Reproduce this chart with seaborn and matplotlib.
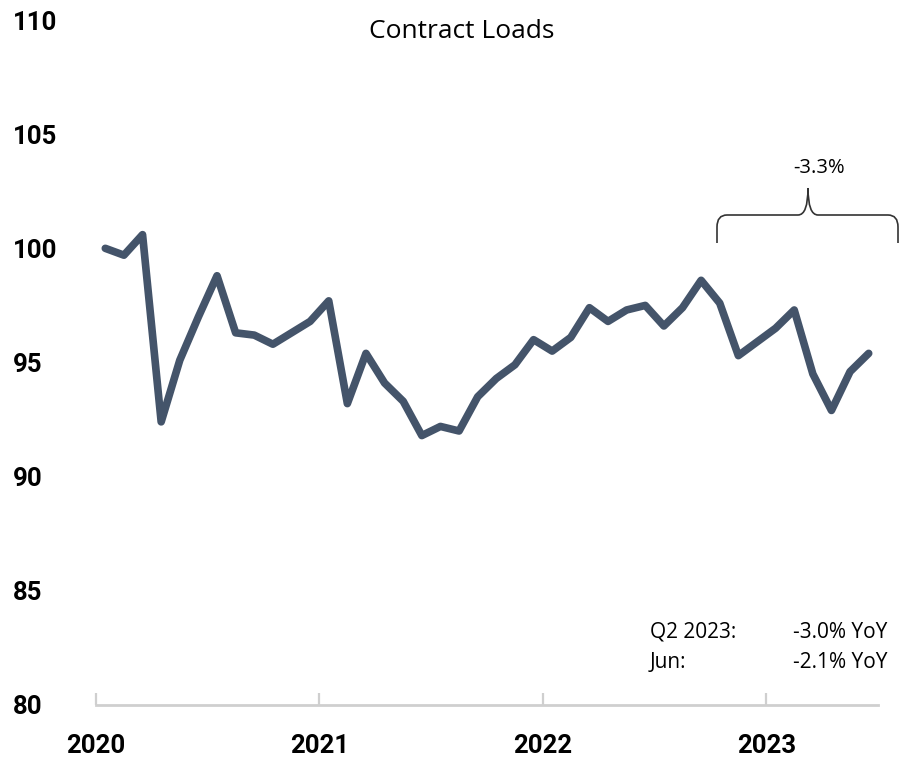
import numpy as np
import pandas as pd
import matplotlib
matplotlib.use("Agg")
import matplotlib.pyplot as plt
from matplotlib.path import Path
from matplotlib.patches import PathPatch
import seaborn as sns

# monthly index values, Jan 2020 - Jun 2023
loads = [100.0, 99.7, 100.6, 92.4, 95.1, 97.0, 98.8, 96.3, 96.2, 95.8, 96.3, 96.8,
         97.7, 93.2, 95.4, 94.1, 93.3, 91.8, 92.2, 92.0, 93.5, 94.3, 94.9, 96.0,
         95.5, 96.1, 97.4, 96.8, 97.3, 97.5, 96.6, 97.4, 98.6, 97.6, 95.3, 95.9,
         96.5, 97.3, 94.5, 92.9, 94.6, 95.4]
years = ["2020", "2021", "2022", "2023"]
y_ticks = [80, 85, 90, 95, 100, 105, 110]
bracket_label = "-3.3%"
notes = [("Q2 2023:", "-3.0% YoY"), ("Jun:", "-2.1% YoY")]

# points sit in the middle of each month slot
df = pd.DataFrame({"month": np.arange(len(loads)) + 0.5, "loads": loads})

sns.set_style("white")
plt.rcParams["font.family"] = ["Open Sans", "DejaVu Sans"]
plt.rcParams["text.color"] = "black"

fig = plt.figure(figsize=(9.04, 7.61), dpi=100)
ax = fig.add_axes([96 / 904, 56 / 761, 782 / 904, 685 / 761])

sns.lineplot(data=df, x="month", y="loads", ax=ax, color="#44546A",
             linewidth=5.5, solid_capstyle="round", solid_joinstyle="round")

ax.set_xlim(0, len(loads))
ax.set_ylim(80, 110)
ax.set_xlabel("")
ax.set_ylabel("")

for side in ["left", "top", "right"]:
    ax.spines[side].set_visible(False)
ax.spines["bottom"].set_color("#CFCFCF")
ax.spines["bottom"].set_linewidth(2)

bold_font = ["Roboto", "DejaVu Sans"]
ax.set_xticks([12 * i for i in range(len(years))])
ax.set_xticklabels(years, fontsize=18.5, fontweight="bold", family=bold_font)
ax.tick_params(axis="x", bottom=True, direction="in", length=9, width=1.6,
               color="#CFCFCF", pad=21, labelcolor="black")

ax.set_yticks(y_ticks)
ax.set_yticklabels([str(v) for v in y_ticks], fontsize=18.5, fontweight="bold",
                   family=bold_font)
ax.tick_params(axis="y", left=False, length=0, pad=60, labelcolor="black")
for lab in ax.get_yticklabels():
    lab.set_horizontalalignment("left")

# title
fig.text(462 / 904, 1 - 32 / 761, "Contract Loads", ha="center", va="center", fontsize=19)

# curly bracket over the last stretch
x0, x1, xm = 717 / 904, 898 / 904, 808 / 904
yb, yt, ys = 1 - 243 / 761, 1 - 215 / 761, 1 - 188 / 761
r = 10 / 904
ry = 12 / 761
verts = [(x0, yb), (x0, yt - ry), (x0, yt), (x0 + r, yt),
         (xm - r, yt), (xm, yt), (xm, ys),
         (xm, ys), (xm, yt), (xm + r, yt),
         (x1 - r, yt), (x1, yt), (x1, yt - ry), (x1, yb)]
codes = [Path.MOVETO, Path.LINETO, Path.CURVE3, Path.CURVE3,
         Path.LINETO, Path.CURVE3, Path.CURVE3,
         Path.MOVETO, Path.CURVE3, Path.CURVE3,
         Path.LINETO, Path.CURVE3, Path.CURVE3, Path.LINETO]
fig.add_artist(PathPatch(Path(verts, codes), facecolor="none", edgecolor="#333333",
                         linewidth=1.2, transform=fig.transFigure))
fig.text(819 / 904, 1 - 168 / 761, bracket_label, ha="center", va="center", fontsize=14.5)

for k, (a, b) in enumerate(notes):
    yy = 1 - (632 + 30 * k) / 761
    fig.text(650 / 904, yy, a, ha="left", va="center", fontsize=15)
    fig.text(793 / 904, yy, b, ha="left", va="center", fontsize=15)

fig.savefig("out.png", dpi=100, facecolor="white")
